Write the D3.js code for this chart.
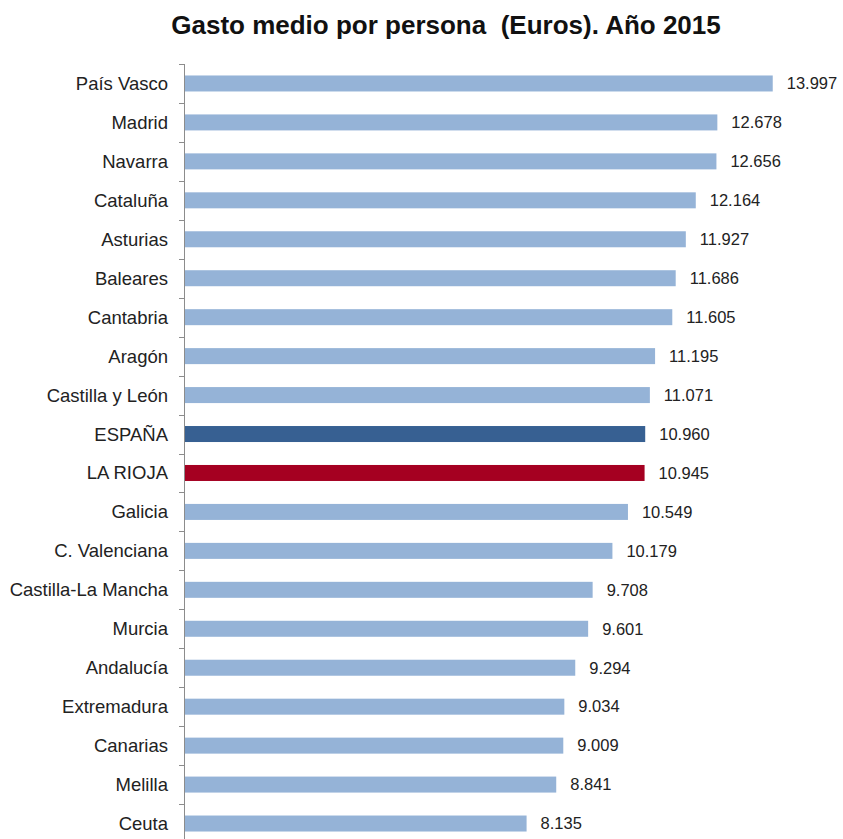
<!DOCTYPE html>
<html><head><meta charset="utf-8">
<script src="https://cdn.jsdelivr.net/npm/d3@7"></script>
<style>body{margin:0;background:#fff}</style>
</head><body>
<script>
const categories = ["País Vasco","Madrid","Navarra","Cataluña","Asturias","Baleares","Cantabria","Aragón","Castilla y León","ESPAÑA","LA RIOJA","Galicia","C. Valenciana","Castilla-La Mancha","Murcia","Andalucía","Extremadura","Canarias","Melilla","Ceuta"];
const values = [13997,12678,12656,12164,11927,11686,11605,11195,11071,10960,10945,10549,10179,9708,9601,9294,9034,9009,8841,8135];
const title = "Gasto medio por persona  (Euros). Año 2015";
const highlight = {"ESPAÑA":"#376092","LA RIOJA":"#A50021"};
const baseColor = "#95B3D7";

const W = 843, H = 839;
const svg = d3.select("body").append("svg").attr("width", W).attr("height", H);

const x = d3.scaleLinear().domain([0, 14000]).range([185, 185 + 14000*0.04199]);
const y = d3.scaleBand().domain(categories).range([64, 64 + 20*38.95]).padding(0);
const barH = 16;

svg.append("text").attr("x", 446).attr("y", 34).attr("text-anchor","middle")
  .style("white-space","pre")
  .attr("font-family","Liberation Sans, Arial, sans-serif").attr("font-weight","bold")
  .attr("font-size", 26).attr("fill","#111").text(title);

const fmt = v => d3.format(",")(v).replace(/,/g, ".");

svg.selectAll("rect.bar").data(categories).enter().append("rect")
  .attr("x", x(0)).attr("y", d => y(d) + y.bandwidth()/2 - barH/2)
  .attr("width", (d,i) => x(values[i]) - x(0)).attr("height", barH)
  .attr("fill", d => highlight[d] || baseColor);

// axis
const ax = svg.append("g").attr("stroke","#8c8c8c").attr("stroke-width",1);
ax.append("line").attr("x1",184.5).attr("x2",184.5).attr("y1",y.range()[0]).attr("y2",H);
categories.forEach(c => {
  ax.append("line").attr("x1",179).attr("x2",184.5).attr("y1",Math.round(y(c))+0.5).attr("y2",Math.round(y(c))+0.5);
});

svg.selectAll("text.cat").data(categories).enter().append("text")
  .attr("x", 168).attr("y", d => y(d) + y.bandwidth()/2).attr("dy","0.35em")
  .attr("text-anchor","end").attr("font-family","Liberation Sans, Arial, sans-serif")
  .attr("font-size", 18.5).attr("fill","#222").text(d => d);

svg.selectAll("text.val").data(categories).enter().append("text")
  .attr("x", (d,i) => x(values[i]) + 14).attr("y", d => y(d) + y.bandwidth()/2).attr("dy","0.35em")
  .attr("font-family","Liberation Sans, Arial, sans-serif")
  .attr("font-size", 16.5).attr("fill","#222").text((d,i) => fmt(values[i]));
</script>
</body></html>
